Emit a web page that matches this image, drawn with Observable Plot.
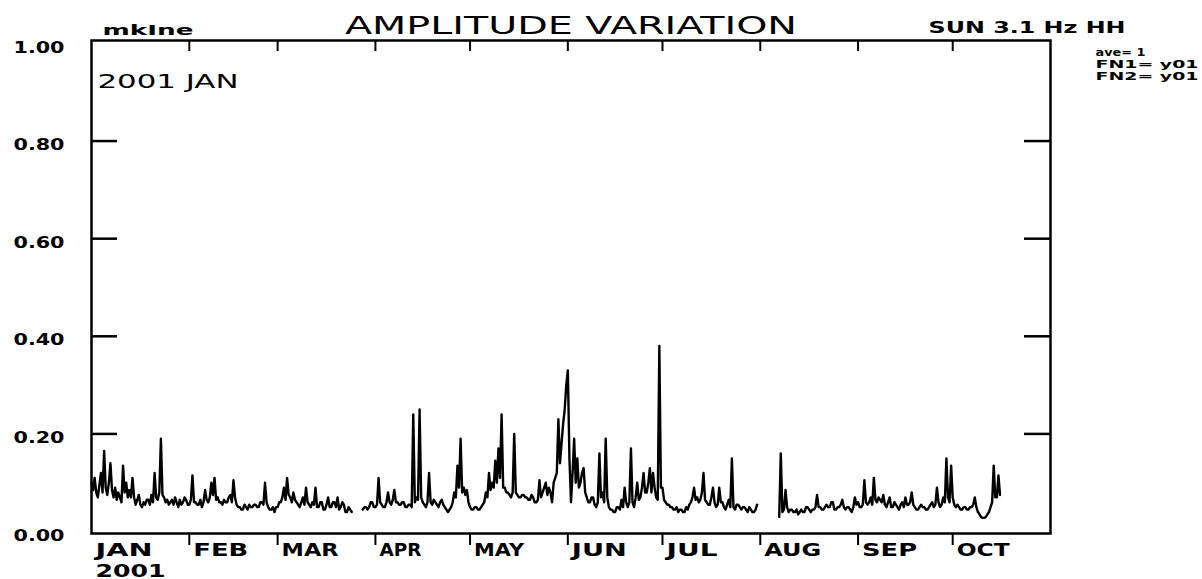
<!DOCTYPE html>
<html>
<head>
<meta charset="utf-8">
<script src="https://cdn.jsdelivr.net/npm/d3@7"></script>
<script src="https://cdn.jsdelivr.net/npm/@observablehq/plot@0.6"></script>
<style>
  body { margin: 0; background: #fff; }
  #chart svg { display: block; }
</style>
</head>
<body>
<div id="chart"></div>
<script>
// ---- data: amplitude, two readings per day (00h, 12h) ----
const monthNames = ["JAN","FEB","MAR","APR","MAY","JUN","JUL","AUG","SEP","OCT"];
const yearLabel = "2001";
const jan = [.10,.085, .11,.08, .07,.095, .12,.08, .165,.09, .075,.10, .14,.085, .07,.09, .065,.08, .07,.06,
             .135,.08, .10,.07, .085,.07, .11,.07, .055,.065, .075,.055, .05,.06, .055,.065, .065,.055, .075,.06,
             .12,.07, .065,.08, .19,.075, .07,.06, .065,.055, .06,.065, .055,.07, .06,.05, .065,.055, .06,.07, .065,.055];
const feb = [.055,.065, .115,.06, .06,.055, .055,.065, .05,.06, .085,.065, .06,.07, .10,.075, .11,.065, .07,.06,
             .06,.055, .065,.06, .06,.07, .075,.06, .105,.07, .055,.05, .05,.045, .045,.055, .05,.045, .055,.05,
             .05,.055, .055,.05, .05,.06, .06,.055, .10,.06, .05,.045, .045,.05, .04,.05];
const mar = [.05,.06, .06,.07, .09,.065, .11,.075, .07,.06, .08,.065, .06,.055, .05,.06, .07,.055, .09,.06,
             .055,.05, .06,.055, .09,.05, .05,.06, .06,.045, .045,.055, .07,.05, .05,.06, .06,.05, .07,.045,
             .05,.06, .055,.04, .04,.05, .045,.04, null,null, null,null, null,null, .045,.05, .05,.045, .05,.06, .06,.05];
const apr = [.05,.055, .11,.06, .055,.05, .05,.06, .08,.06, .055,.065, .085,.06, .06,.055, .055,.06, .06,.05,
             .05,.055, .055,.05, .24,.06, .07,.065, .25,.07, .06,.055, .05,.06, .12,.06, .055,.065, .06,.055,
             .05,.06, .065,.055, .05,.045, .04,.045, .05,.06, .08,.07, .135,.09, .19,.08, .09,.075, .085,.06];
const may = [.05,.045, .045,.05, .05,.045, .045,.05, .055,.06, .08,.07, .12,.085, .10,.09, .145,.10, .17,.11,
             .24,.09, .09,.08, .08,.075, .07,.08, .20,.08, .075,.07, .07,.075, .075,.07, .07,.065, .065,.075,
             .07,.06, .06,.065, .105,.07, .08,.09, .10,.075, .09,.08, .06,.10, .11,.12, .23,.14, .18,.22, .25,.30];
const jun = [.33,.15, .06,.12, .19,.10, .15,.09, .10,.12, .13,.08, .07,.06, .06,.07, .07,.055, .05,.06,
             .16,.07, .08,.06, .19,.07, .05,.045, .045,.04, .04,.05, .05,.045, .065,.05, .09,.06, .05,.06,
             .17,.06, .05,.07, .10,.065, .07,.09, .12,.08, .08,.10, .13,.08, .12,.09, .07,.065, .38,.09];
const jul = [.09,.065, .06,.055, .055,.05, .05,.045, .045,.05, .04,.045, .045,.04, .04,.05, .045,.055, .06,.07,
             .09,.065, .07,.06, .065,.08, .12,.065, .06,.055, .055,.07, .09,.06, .05,.055, .09,.06, .06,.05,
             .045,.055, .065,.05, .15,.05, .045,.055, .055,.05, .045,.05, .05,.045, .04,.05, .045,.04, .04,.045, .055,null];
const aug = [null,null, null,null, null,null, null,null, null,null, null,null, .03,.16, .04,.045, .085,.05, .04,.045,
             .045,.04, .04,.045, .035,.04, .045,.04, .04,.05, .05,.045, .04,.045, .045,.05, .075,.05, .05,.045,
             .045,.05, .055,.05, .05,.06, .06,.045, .045,.05, .05,.055, .065,.05, .045,.05, .05,.045, .04,.05, .07,.055];
const sep = [.06,.05, .05,.055, .105,.06, .055,.06, .07,.055, .11,.065, .06,.07, .065,.06, .075,.055, .05,.06,
             .07,.05, .05,.06, .055,.05, .045,.055, .06,.05, .07,.055, .055,.06, .08,.055, .05,.045, .045,.05,
             .055,.05, .05,.045, .045,.05, .055,.06, .05,.055, .09,.06, .05,.055, .07,.06, .15,.07, .06,.135];
const oct = [.07,.055, .05,.055, .05,.045, .045,.05, .05,.045, .045,.05, .05,.055, .07,.05, .04,.035, .03,.028,
             .028,.03, .035,.04, .05,.06, .135,.07, .07,.115, .075];
const yTicks = [0, 0.2, 0.4, 0.6, 0.8, 1.0];
const titleText = "AMPLITUDE VARIATION";
const stationText = "mkIne";
const bandText = "SUN 3.1 Hz HH";
const sideLines = ["ave= 1", "FN1= y01", "FN2= y01"];
const stampText = "2001 JAN";

// ---- build table ----
const monthly = [jan, feb, mar, apr, may, jun, jul, aug, sep, oct];
const data = monthly.flatMap((arr, m) =>
  arr.map((v, k) => ({
    date: new Date(Date.UTC(2001, m, 1 + Math.floor(k / 2), (k % 2) * 12)),
    value: v == null ? NaN : v
  }))
);
const monthStarts = monthNames.map((name, i) => ({ date: new Date(Date.UTC(2001, i, 1)), label: name }));
const tickDates = monthStarts.slice(1).map(d => d.date);
const yInner = yTicks.slice(1, -1);

const W = 1202, H = 579;
const mL = 91, mR = 152, mT = 40, mB = 46;
const innerW = W - mL - mR;
const innerH = H - mT - mB;

// the plotter font is wide: each text is stretched to its width in the reference
const monthWidths = [57, 55, 57, 42, 50, 55, 51, 57, 55, 53];
const base = { fill: "#000", lineAnchor: "middle" };
const textSpecs = [
  [Plot.text(monthStarts, { ...base, x: "date", text: "label", frameAnchor: "bottom", textAnchor: "start", dx: 4, dy: 17, fontSize: 18, fontWeight: "bold" }), monthWidths],
  [Plot.text([yearLabel], { ...base, x: () => monthStarts[0].date, text: d => d, frameAnchor: "bottom", textAnchor: "start", dx: 4, dy: 38, fontSize: 18, fontWeight: "bold" }), [70]],
  [Plot.text([titleText], { ...base, text: d => d, frameAnchor: "top", dy: -15, fontSize: 25 }), [452]],
  [Plot.text([stationText], { ...base, text: d => d, frameAnchor: "top-left", textAnchor: "start", dx: 11, dy: -9.5, fontSize: 14, fontWeight: "bold" }), [91]],
  [Plot.text([bandText], { ...base, text: d => d, frameAnchor: "top-right", textAnchor: "start", dx: -122, dy: -12, fontSize: 15, fontWeight: "bold" }), [197]],
  ...sideLines.map((s, i) => [Plot.text([s], { ...base, text: d => d, frameAnchor: "top-right", textAnchor: "start", dx: 45, dy: 12 + i * 12, fontSize: 10.5, fontWeight: "bold" }), [i === 0 ? 50 : 103]]),
  [Plot.text([stampText], { ...base, text: d => d, frameAnchor: "top-left", textAnchor: "start", dx: 6, dy: 41.5, fontSize: 20 }), [141]]
];

const chart = Plot.plot({
  width: W,
  height: H,
  marginLeft: mL, marginRight: mR, marginTop: mT, marginBottom: mB,
  style: { fontFamily: "'DejaVu Sans', sans-serif", background: "#fff", color: "#000", overflow: "visible" },
  x: { type: "utc", domain: [new Date(Date.UTC(2001, 0, 1)), new Date(Date.UTC(2001, 10, 1))] },
  y: { domain: [-0.004, 1.006] },
  marks: [
    Plot.frame({ stroke: "#000", strokeWidth: 2.5 }),
    Plot.tickY(yInner, { y: d => d, insetRight: innerW - 26, stroke: "#000", strokeWidth: 2.5 }),
    Plot.tickY(yInner, { y: d => d, insetLeft: innerW - 26, stroke: "#000", strokeWidth: 2.5 }),
    Plot.tickX(tickDates, { x: d => d, insetBottom: innerH - 11, stroke: "#000", strokeWidth: 2 }),
    Plot.axisX({ ticks: tickDates, tickSize: 12, fill: "none", stroke: "#000", strokeWidth: 2, label: null }),
    Plot.axisY({ ticks: yTicks, tickSize: 0, tickPadding: 27, tickFormat: d3.format(".2f"), fontSize: 16, fontWeight: "bold", lineAnchor: "middle", dy: 4, label: null }),
    Plot.line(data, { x: "date", y: "value", stroke: "#000", strokeWidth: 2.4, strokeLinejoin: "round" }),
    ...textSpecs.map(d => d[0])
  ]
});

function stretch(textEl, w) {
  textEl.setAttribute("textLength", w);
  textEl.setAttribute("lengthAdjust", "spacingAndGlyphs");
}
chart.querySelectorAll('g[aria-label="text"]').forEach((g, i) => {
  const spec = textSpecs[i];
  if (!spec) return;
  g.querySelectorAll("text").forEach((t, j) => stretch(t, spec[1][j] ?? spec[1][0]));
});
chart.querySelectorAll('g[aria-label="y-axis tick label"] text').forEach(t => stretch(t, 51));
document.getElementById("chart").append(chart);
</script>
</body>
</html>
